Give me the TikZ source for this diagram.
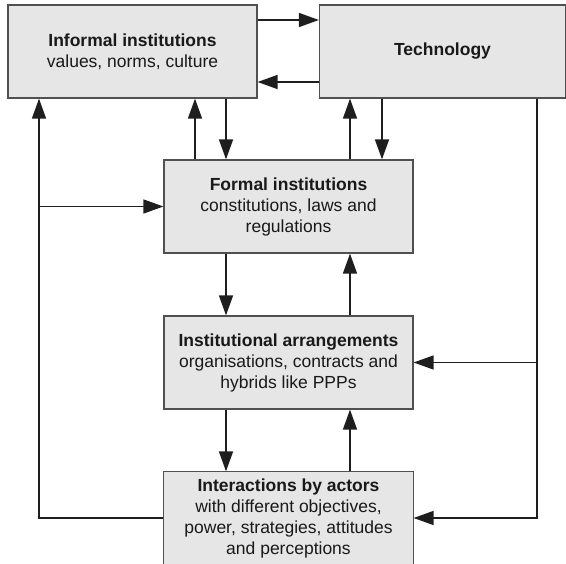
\documentclass[tikz,border=0pt]{standalone}
\usepackage{fontspec}
\setmainfont{Liberation Sans}
\usetikzlibrary{arrows.meta,calc,backgrounds}
\definecolor{boxfill}{HTML}{E6E6E6}
\definecolor{boxline}{HTML}{505050}
\definecolor{conn}{HTML}{1E1E1E}
\begin{document}
\begin{tikzpicture}[x=1pt,y=-1pt,
  boxframe/.style={draw=boxline,line width=1.2pt,fill=boxfill},
  box/.style={boxframe,rectangle,inner sep=0pt,
    align=center,minimum width=249pt,minimum height=93pt,
    font=\fontsize{17.5}{21}\selectfont,text=black!90},
  arr/.style={draw=conn,line width=1.4pt,-{Triangle[length=20pt,width=14pt]}}]
\useasboundingbox (0,0) rectangle (566,564);
\node[box] (inf) at (132.5,51.5) {\textbf{Informal institutions}\\values, norms, culture};
\node[box,minimum width=246pt] (tech) at (442.5,51.5) {\textbf{Technology}};
\node[box] (formal) at (288.5,206.5) {\textbf{Formal institutions}\\constitutions, laws and\\regulations};
\node[box] (inst) at (288.5,362.5) {\textbf{Institutional arrangements}\\organisations, contracts and\\hybrids like PPPs};
\node[box,draw=none,fill=none,minimum height=92pt] (inter) at (288.5,518) {\textbf{Interactions by actors}\\with different objectives,\\power, strategies, attitudes\\and perceptions};
\begin{scope}[on background layer]
\path[boxframe] (inter.north west) rectangle ($(inter.south east)+(0,14)$);
\end{scope}
\coordinate (lj) at (39,206.5);
\coordinate (rj) at (537,362.5);
% top pair
\draw[arr] (inf.east |- 0,20) -- (tech.west |- 0,20);
\draw[arr] (tech.west |- 0,82) -- (inf.east |- 0,82);
% informal <-> formal
\draw[arr] (inf.south -| 226,0) -- (formal.north -| 226,0);
\draw[arr] (formal.north -| 195,0) -- (inf.south -| 195,0);
% technology <-> formal
\draw[arr] (formal.north -| 350,0) -- (tech.south -| 350,0);
\draw[arr] (tech.south -| 382,0) -- (formal.north -| 382,0);
% formal <-> inst
\draw[arr] (formal.south -| 226,0) -- (inst.north -| 226,0);
\draw[arr] (inst.north -| 350,0) -- (formal.south -| 350,0);
% inst <-> inter
\draw[arr] (inst.south -| 226,0) -- (inter.north -| 226,0);
\draw[arr] (inter.north -| 350,0) -- (inst.south -| 350,0);
% left feedback loop
\draw[arr] (inter.west) -| (inf.south -| lj);
\draw[arr] (lj) -- (formal.west);
% right technology loop
\draw[arr] (tech.south -| rj) |- (inter.east);
\draw[arr] (rj) -- (inst.east);
\end{tikzpicture}
\end{document}
